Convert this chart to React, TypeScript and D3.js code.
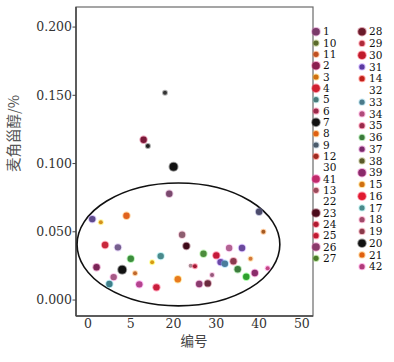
import * as d3 from 'd3';

// 编号 (sample number) and ergosterol content per sample
const sampleIds = [
  1, 2, 3, 4, 5, 6, 7, 8, 9, 10, 11, 12, 13, 14, 15, 16, 17, 18, 19, 20, 21,
  22, 23, 24, 25, 26, 27, 28, 29, 30, 31, 32, 33, 34, 35, 36, 37, 38, 39, 40, 41, 42,
];
const ergosterol = [
  0.0593, 0.024, 0.0569, 0.0403, 0.0117, 0.0168, 0.0386, 0.0222, 0.0618, 0.0303,
  0.0196, 0.0115, 0.1174, 0.1128, 0.0276, 0.0093, 0.0322, 0.1519, 0.0779, 0.0977,
  0.0152, 0.0478, 0.0396, 0.0251, 0.0247, 0.0117, 0.0339, 0.0122, 0.0183, 0.0327,
  0.0278, 0.0266, 0.0381, 0.0284, 0.0225, 0.0381, 0.0171, 0.0303, 0.0198, 0.0647,
  0.05, 0.0232,
];
const sampleColors = [
  '#5e4a8c', '#7a2456', '#d4901c', '#c8283c', '#3f7f8a', '#a65a86', '#76608e', '#111111',
  '#e0621e', '#3c8c3c', '#c0682c', '#b4448e', '#7a1838', '#222222', '#d89a14', '#c81e3c',
  '#4a8a8c', '#333333', '#7a4a6e', '#111111', '#e87a1e', '#8e5e70', '#3e0a18', '#a88890',
  '#a01a34', '#8a3c6e', '#4c8c3c', '#6a2a3e', '#94587a', '#c41a3a', '#6a4aa6', '#4a7c9c',
  '#b26492', '#8c3a4e', '#3c7c3c', '#6a4a9c', '#2ea02e', '#d4783a', '#8a2c6a', '#4c4c6c',
  '#a45a22', '#c44684',
];
const smallIds = [3, 11, 14, 15, 18, 24, 25, 29, 38, 41, 42];
const bigIds = [8, 20];

const xTicks = [0, 10, 20, 30, 40, 50];
const xTickLabels = ['0', '5', '20', '30', '40', '50'];
const yTicks = [0, 0.05, 0.1, 0.15, 0.2];

// cluster ellipse: centre and radii in data units
const ellipseCenter = [21.15, 0.0407];
const ellipseRadius = [23.7, 0.045];

const legendCol1 = ['1', '10', '11', '2', '3', '4', '5', '6', '7', '8', '9', '12', '30', '41', '13', '22', '23', '24', '25', '26', '27'];
const legendCol1Colors = [
  '#7a3a6a', '#5a6a2a', '#c05020', '#8a2050', '#d07010', '#d02030', '#4a7a7a', '#9a2a4a',
  '#111111', '#e06010', '#4a5a6a', '#a02a20', null, '#c02a6a', '#9a4a5a', null, '#4a0a1a',
  '#b01a30', '#c01a30', '#8a3a6a', '#4a7a2a',
];
const legendCol2 = ['28', '29', '30', '31', '14', '32', '33', '34', '35', '36', '37', '38', '39', '15', '16', '17', '18', '19', '20', '21', '42'];
const legendCol2Colors = [
  '#6a1a2a', '#b02a3a', '#c01a2a', '#5a3aa0', '#c0201a', null, '#4a7a8a', '#b04a7a',
  '#9a2a4a', '#3a7a3a', '#7a2a6a', '#5a5a2a', '#8a2a6a', '#d07010', '#e01a30', '#4a8a8a',
  '#a04a6a', '#8a3a4a', '#111111', '#e06010', '#b03a7a',
];
const legendBig = ['1', '2', '4', '7', '41', '23', '26', '28', '30', '39', '16', '20'];

const W = 394;
const H = 362;
const serif = "'DejaVu Serif', 'Liberation Serif', serif";
const cjk = "'Noto Sans CJK SC', sans-serif";

function Dot({ cx, cy, r, color }: { cx: number; cy: number; r: number; color: string }) {
  const halo = d3.color(color)!.brighter(1.4).formatHex();
  return (
    <g>
      <circle cx={cx} cy={cy} r={r + 1} fill={halo} opacity={0.45} />
      <circle cx={cx} cy={cy} r={r} fill={color} />
    </g>
  );
}

export default function App() {
  const x = d3.scaleLinear().domain([-2.8, 52.6]).range([76, 313]);
  const y = d3.scaleLinear().domain([-0.0117, 0.2147]).range([316, 7]);
  const fmt = d3.format('.3f');

  const ly1 = d3.scalePoint<string>().domain(d3.range(legendCol1.length).map(String)).range([31.7, 258.3]);
  const ly2 = d3.scalePoint<string>().domain(d3.range(legendCol2.length).map(String)).range([31.7, 266.7]);

  const ex = x(ellipseCenter[0]);
  const ey = y(ellipseCenter[1]);
  const erx = x(ellipseCenter[0] + ellipseRadius[0]) - ex;
  const ery = ey - y(ellipseCenter[1] + ellipseRadius[1]);

  const legendCols = [
    { labels: legendCol1, colors: legendCol1Colors, scale: ly1, dotX: 316, textX: 323 },
    { labels: legendCol2, colors: legendCol2Colors, scale: ly2, dotX: 362, textX: 369 },
  ];

  const serifStyle = { fontFamily: serif };
  const cjkStyle = { fontFamily: cjk };

  return (
    <svg width={W} height={H} style={{ position: 'absolute', left: 0, top: 0, background: '#fff' }}>
      {/* frame */}
      <rect x={76} y={7} width={237} height={309} fill="none" stroke="#6a6a6a" strokeWidth={1.2} />
      <line x1={76} x2={76} y1={7} y2={316} stroke="#444" strokeWidth={1.5} />
      <line x1={76} x2={313} y1={316} y2={316} stroke="#444" strokeWidth={1.5} />

      {/* y axis */}
      {yTicks.map((t) => (
        <g key={t}>
          <line x1={72.5} x2={76} y1={y(t)} y2={y(t)} stroke="#444" />
          <text x={72} y={y(t)} dy="0.35em" textAnchor="end" style={serifStyle} fontSize={12.5} fill="#333">
            {fmt(t)}
          </text>
        </g>
      ))}
      <text
        transform={`translate(19,133.5) rotate(-90)`}
        textAnchor="middle"
        style={cjkStyle}
        fontSize={14.5}
        fill="#555"
      >
        麦角甾醇/%
      </text>

      {/* x axis */}
      {xTicks.map((t, i) => (
        <text key={t} x={x(t)} y={324} dy="0.35em" textAnchor="middle" style={serifStyle} fontSize={12.5} fill="#333">
          {xTickLabels[i]}
        </text>
      ))}
      <text x={194} y={341} dy="0.35em" textAnchor="middle" style={cjkStyle} fontSize={13.5} fill="#444">
        编号
      </text>

      {/* cluster ellipse */}
      <ellipse cx={ex} cy={ey} rx={erx} ry={ery} fill="none" stroke="#111" strokeWidth={1.6} />

      {/* samples */}
      {sampleIds.map((id, i) => {
        const r = smallIds.includes(id) ? 2 : bigIds.includes(id) ? 4 : 3.2;
        return <Dot key={id} cx={x(id)} cy={y(ergosterol[i])} r={r} color={sampleColors[i]} />;
      })}

      {/* legend */}
      {legendCols.map((col, ci) => (
        <g key={ci}>
          {col.labels.map((lab, i) => {
            const yy = col.scale(String(i))!;
            const c = col.colors[i];
            const r = legendBig.includes(lab) ? 3.8 : 2.6;
            return (
              <g key={i}>
                {c && <Dot cx={col.dotX} cy={yy} r={r} color={c} />}
                <text x={col.textX} y={yy} dy="0.35em" style={serifStyle} fontSize={10.5} fill="#111">
                  {lab}
                </text>
              </g>
            );
          })}
        </g>
      ))}
    </svg>
  );
}
